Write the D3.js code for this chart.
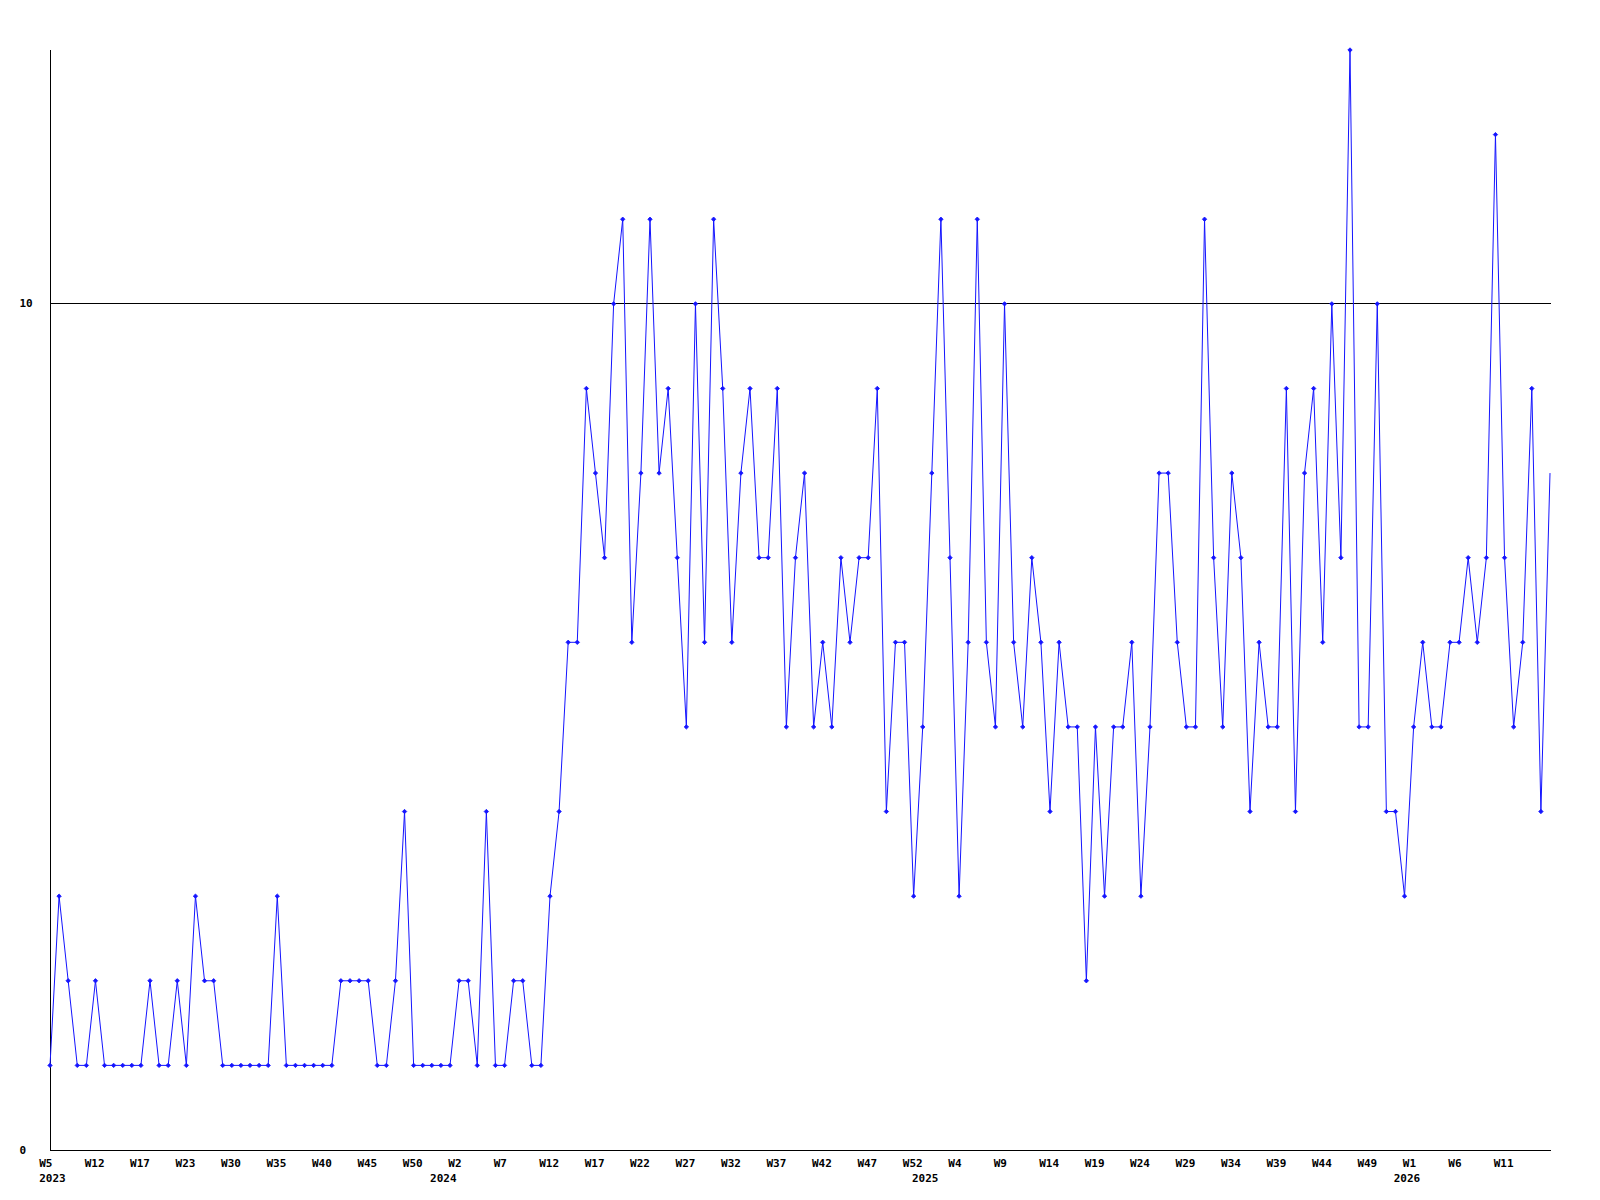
<!DOCTYPE html>
<html>
<head>
<meta charset="utf-8">
<script src="https://cdn.jsdelivr.net/npm/d3@7"></script>
<style>
  html, body { margin: 0; padding: 0; background: #ffffff; }
  svg { display: block; }
  text { font-family: "DejaVu Sans Mono", "Liberation Mono", monospace; font-weight: bold; font-size: 11px; fill: #000; }
</style>
</head>
<body>
<svg id="chart" width="1600" height="1200"></svg>
<script>
// Weekly values, one per point (2023 W5 .. 2026 W16)
const values = [
  1,3,2,1,1,2,1,1,1,1,
  1,2,1,1,2,1,3,2,2,1,
  1,1,1,1,1,3,1,1,1,1,
  1,1,2,2,2,2,1,1,2,4,
  1,1,1,1,1,2,2,1,4,1,
  1,2,2,1,1,3,4,6,6,9,
  8,7,10,11,6,8,11,8,9,7,
  5,10,6,11,9,6,8,9,7,7,
  9,5,7,8,5,6,5,7,6,7,
  7,9,4,6,6,3,5,8,11,7,
  3,6,11,6,5,10,6,5,7,6,
  4,6,5,5,2,5,3,5,5,6,
  3,5,8,8,6,5,5,11,7,5,
  8,7,4,6,5,5,9,4,8,9,
  6,10,7,13,5,5,10,4,4,3,
  5,6,5,5,6,6,7,6,7,12,
  7,5,6,9,4,8
];

// Week tick labels, shown at every 5th point
const tickLabels = ["W5","W12","W17","W23","W30","W35","W40","W45","W50","W2","W7",
  "W12","W17","W22","W27","W32","W37","W42","W47","W52","W4","W9","W14","W19","W24",
  "W29","W34","W39","W44","W49","W1","W6","W11"];
const tickEvery = 5;

// Year labels and the point index where each year starts
const yearLabels = ["2023","2024","2025","2026"];
const yearStarts = [0, 43, 96, 149];

// Y axis labels
const yTicks = [0, 10];
const yMax = 13;

(function () {
  const svg = d3.select("#chart");
  const mLeft = 50, mRight = 1550, mTop = 50, mBottom = 1150;

  const x = d3.scaleLinear().domain([0, values.length - 1]).range([mLeft, mRight]);
  const y = d3.scaleLinear().domain([0, yMax]).range([mBottom, mTop]);

  // Gridline at 10
  svg.append("line")
    .attr("x1", mLeft).attr("x2", mRight + 1)
    .attr("y1", Math.floor(y(10)) + 0.5).attr("y2", Math.floor(y(10)) + 0.5)
    .attr("stroke", "#000").attr("stroke-width", 1);

  // Axes
  svg.append("line")
    .attr("x1", mLeft + 0.5).attr("x2", mLeft + 0.5)
    .attr("y1", mTop).attr("y2", mBottom + 1)
    .attr("stroke", "#000").attr("stroke-width", 1);
  svg.append("line")
    .attr("x1", mLeft).attr("x2", mRight + 1)
    .attr("y1", mBottom + 0.5).attr("y2", mBottom + 0.5)
    .attr("stroke", "#000").attr("stroke-width", 1);

  // Y labels
  svg.selectAll("text.ylab").data(yTicks).enter().append("text")
    .attr("class", "ylab")
    .attr("x", 19.5)
    .attr("y", d => y(d) + 3.6)
    .text(d => d);

  // X week labels
  svg.selectAll("text.xlab").data(tickLabels).enter().append("text")
    .attr("class", "xlab")
    .attr("x", (d, i) => x(i * tickEvery) - 10.8)
    .attr("y", 1166.5)
    .text(d => d);

  // Year labels
  svg.selectAll("text.yr").data(yearLabels).enter().append("text")
    .attr("class", "yr")
    .attr("x", (d, i) => x(yearStarts[i]) - 10.8)
    .attr("y", 1181.5)
    .text(d => d);

  // Line
  const line = d3.line().x((d, i) => x(i)).y(d => y(d));
  svg.append("path")
    .datum(values)
    .attr("d", line)
    .attr("fill", "none")
    .attr("stroke", "#1414ff")
    .attr("stroke-width", 1);

  // Markers (last point has none)
  const r = 2.2;
  svg.selectAll("path.mk").data(values.slice(0, values.length - 1)).enter().append("path")
    .attr("class", "mk")
    .attr("d", (d, i) => {
      const cx = x(i), cy = y(d);
      return `M${cx - r},${cy}L${cx},${cy - r}L${cx + r},${cy}L${cx},${cy + r}Z`;
    })
    .attr("fill", "#1414ff")
    .attr("stroke", "#1414ff")
    .attr("stroke-width", 0.8);
})();
</script>
</body>
</html>
